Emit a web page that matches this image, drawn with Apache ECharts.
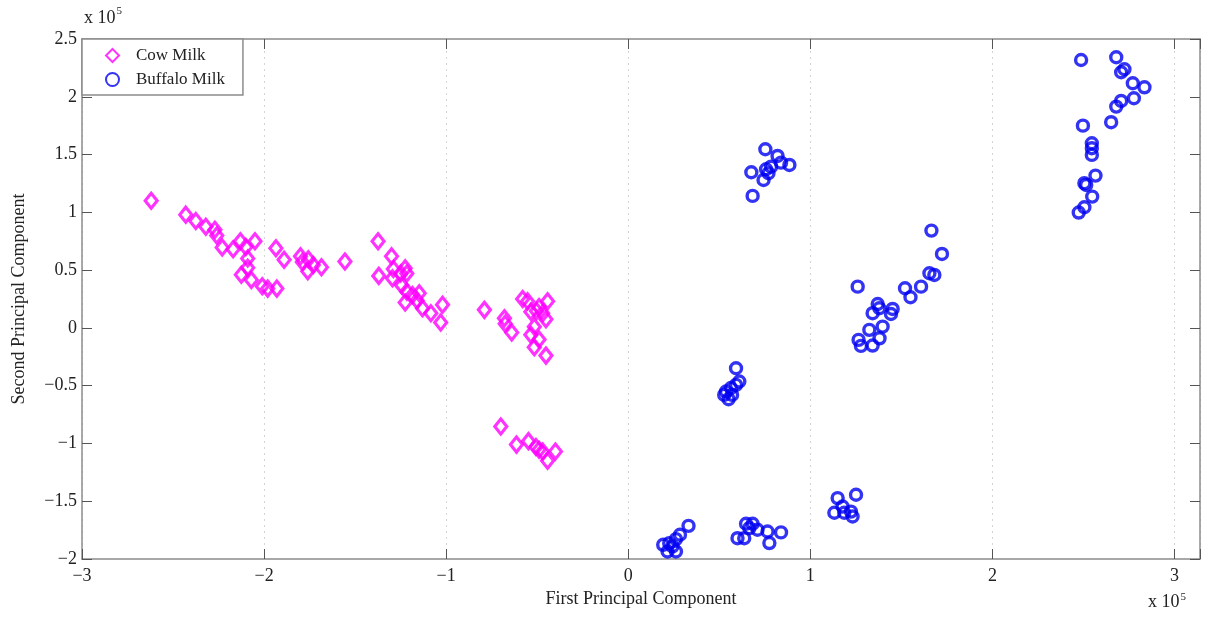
<!DOCTYPE html>
<html lang="en">
<head>
    <meta charset="UTF-8">
    <title>PCA milk</title>
    <style>
        *{ margin: 0; padding: 0;}
        body{ background: #fff;}
        #chart{ width: 1212px; height: 619px;}
    </style>
    <script src="https://cdn.jsdelivr.net/npm/echarts@6/dist/echarts.min.js"></script>
</head>
<body>
    <div id="chart"></div>
    <script>
        // values in units of 1e5
        var cowMilk = [
            [-2.62, 1.10], [-2.43, 0.98], [-2.375, 0.925], [-2.32, 0.876], [-2.27, 0.85],
            [-2.26, 0.80], [-2.23, 0.695], [-2.17, 0.68], [-2.13, 0.75], [-2.10, 0.70],
            [-2.05, 0.75], [-2.09, 0.60], [-2.09, 0.52], [-2.125, 0.46], [-2.07, 0.415],
            [-2.01, 0.36], [-1.98, 0.34], [-1.93, 0.34], [-1.935, 0.69], [-1.89, 0.59],
            [-1.80, 0.62], [-1.757, 0.594], [-1.79, 0.57], [-1.76, 0.49], [-1.73, 0.545],
            [-1.685, 0.525], [-1.556, 0.575], [-1.374, 0.75], [-1.37, 0.45], [-1.30, 0.62],
            [-1.29, 0.51], [-1.295, 0.43], [-1.25, 0.47], [-1.225, 0.516], [-1.216, 0.47],
            [-1.245, 0.37], [-1.216, 0.314], [-1.225, 0.22], [-1.185, 0.285], [-1.148, 0.30],
            [-1.16, 0.236], [-1.13, 0.17], [-1.084, 0.127], [-1.02, 0.20], [-1.03, 0.046],
            [-0.79, 0.156], [-0.68, 0.084], [-0.676, 0.035], [-0.64, -0.04], [-0.58, 0.25],
            [-0.553, 0.23], [-0.535, 0.14], [-0.504, 0.147], [-0.443, 0.23], [-0.452, 0.075],
            [-0.49, 0.18], [-0.516, 0.01], [-0.535, -0.06], [-0.49, -0.10], [-0.516, -0.167],
            [-0.452, -0.24], [-0.47, 0.127],
            [-0.70, -0.854], [-0.614, -1.01], [-0.548, -0.98], [-0.507, -1.03], [-0.47, -1.07],
            [-0.443, -1.15], [-0.40, -1.07], [-0.49, -1.055]
        ];
        var buffaloMilk = [
            // cluster near (0.8, 1.4)
            [0.753, 1.546], [0.82, 1.488], [0.676, 1.347], [0.757, 1.373], [0.784, 1.395],
            [0.743, 1.28], [0.77, 1.338], [0.839, 1.43], [0.885, 1.41], [0.683, 1.142],
            // cluster near (1.4, 0.2)
            [1.665, 0.842], [1.723, 0.64], [1.654, 0.473], [1.681, 0.458], [1.608, 0.357],
            [1.52, 0.343], [1.55, 0.265], [1.26, 0.357], [1.37, 0.207], [1.342, 0.127],
            [1.452, 0.164], [1.443, 0.12], [1.397, 0.011], [1.324, -0.017], [1.38, -0.09],
            [1.265, -0.104], [1.278, -0.156], [1.342, -0.153], [1.379, 0.17],
            // cluster near (0.57, -0.5)
            [0.592, -0.349], [0.61, -0.464], [0.592, -0.493], [0.564, -0.52], [0.537, -0.551],
            [0.527, -0.58], [0.551, -0.617], [0.57, -0.58],
            // cluster top right
            [2.487, 2.318], [2.68, 2.342], [2.725, 2.238], [2.707, 2.212], [2.771, 2.117],
            [2.835, 2.082], [2.777, 1.987], [2.707, 1.964], [2.68, 1.915], [2.652, 1.78],
            [2.497, 1.75], [2.546, 1.598], [2.546, 1.555], [2.546, 1.497], [2.566, 1.318],
            [2.505, 1.252], [2.515, 1.237], [2.548, 1.136], [2.505, 1.044], [2.474, 0.998],
            // bottom clusters
            [0.331, -1.713], [0.192, -1.877], [0.225, -1.863], [0.262, -1.828], [0.284, -1.79],
            [0.216, -1.935], [0.262, -1.935], [0.243, -1.89],
            [0.647, -1.695], [0.683, -1.695], [0.71, -1.747], [0.60, -1.82], [0.637, -1.82],
            [0.765, -1.762], [0.775, -1.862], [0.839, -1.77], [0.665, -1.733],
            [1.251, -1.444], [1.15, -1.473], [1.132, -1.60], [1.177, -1.546], [1.223, -1.59],
            [1.232, -1.632], [1.186, -1.60]
        ];
        var seriesNames = ['Cow Milk', 'Buffalo Milk'];

        var serif = '"Liberation Serif", "DejaVu Serif", serif';
        var axisGray = '#8c8c8c';

        function fmtTick(v) {
            if (Math.abs(v * 2 - Math.round(v * 2)) > 1e-6) return '';
            return String(+v.toFixed(1)).replace('-', '\u2212');
        }
        function fmtTickX(v) {
            if (Math.abs(v - Math.round(v)) > 1e-6) return '';
            return String(Math.round(v)).replace('-', '\u2212');
        }

        var chart = echarts.init(document.getElementById('chart'));
        var option = {
            animation: false,
            backgroundColor: '#fff',
            grid: { left: 82, top: 39, right: 12, bottom: 60, show: false },
            legend: {
                orient: 'vertical',
                left: 82, top: 39,
                data: seriesNames,
                backgroundColor: '#fff',
                borderColor: axisGray,
                borderWidth: 1.5,
                borderRadius: 0,
                padding: [8, 18, 7, 23],
                itemGap: 7,
                itemWidth: 13,
                itemHeight: 13,
                textStyle: { fontFamily: serif, fontSize: 17, color: '#222', padding: [0, 0, 0, 12] }
            },
            xAxis: [{
                type: 'value', min: -3, max: 3.14, interval: 1,
                name: 'First Principal Component',
                nameLocation: 'middle', nameGap: 30,
                nameTextStyle: { fontFamily: serif, fontSize: 18, color: '#222' },
                axisLine: { onZero: false, lineStyle: { color: axisGray, width: 1.5 } },
                axisTick: { inside: true, length: 10, lineStyle: { color: '#555' } },
                axisLabel: { fontFamily: serif, fontSize: 18, color: '#222', margin: 8, formatter: fmtTickX },
                splitLine: { show: true, lineStyle: { color: '#d4d4d4', type: [2, 4] } }
            }, {
                type: 'value', min: -3, max: 3.14, interval: 1, position: 'top',
                axisLine: { onZero: false, lineStyle: { color: axisGray, width: 1.5 } },
                axisTick: { inside: true, length: 10, lineStyle: { color: '#555' } },
                axisLabel: { show: false },
                splitLine: { show: false }
            }],
            yAxis: [{
                type: 'value', min: -2, max: 2.5, interval: 0.5,
                name: 'Second Principal Component',
                nameLocation: 'middle', nameGap: 54,
                nameTextStyle: { fontFamily: serif, fontSize: 18, color: '#222' },
                axisLine: { onZero: false, lineStyle: { color: axisGray, width: 1.5 } },
                axisTick: { inside: true, length: 10, lineStyle: { color: '#555' } },
                axisLabel: { fontFamily: serif, fontSize: 18, color: '#222', margin: 5, formatter: fmtTick },
                splitLine: { show: false }
            }, {
                type: 'value', min: -2, max: 2.5, interval: 0.5, position: 'right',
                axisLine: { onZero: false, lineStyle: { color: axisGray, width: 1.5 } },
                axisTick: { inside: true, length: 10, lineStyle: { color: '#555' } },
                axisLabel: { show: false },
                splitLine: { show: false }
            }],
            graphic: [{
                type: 'text', left: 84, top: 6,
                style: {
                    text: '{b|x 10}{s|5}',
                    rich: {
                        b: { fontFamily: serif, fontSize: 18, fill: '#222', verticalAlign: 'bottom' },
                        s: { fontFamily: serif, fontSize: 11, fill: '#222', padding: [0, 0, 10, 1] }
                    }
                }
            }, {
                type: 'text', left: 1148, top: 592,
                style: {
                    text: '{b|x 10}{s|5}',
                    rich: {
                        b: { fontFamily: serif, fontSize: 18, fill: '#222' },
                        s: { fontFamily: serif, fontSize: 11, fill: '#222', padding: [0, 0, 10, 1] }
                    }
                }
            }],
            series: [{
                name: seriesNames[0],
                type: 'scatter',
                symbol: 'diamond',
                symbolSize: [12, 15],
                itemStyle: { color: 'rgba(255,255,255,0)', borderColor: '#ff00ff', borderWidth: 3.2 },
                data: cowMilk
            }, {
                name: seriesNames[1],
                type: 'scatter',
                symbol: 'circle',
                symbolSize: 11,
                itemStyle: { color: 'rgba(255,255,255,0)', borderColor: '#0000f0', borderWidth: 3.4 },
                data: buffaloMilk
            }]
        };
        chart.setOption(option);
    </script>
</body>
</html>
